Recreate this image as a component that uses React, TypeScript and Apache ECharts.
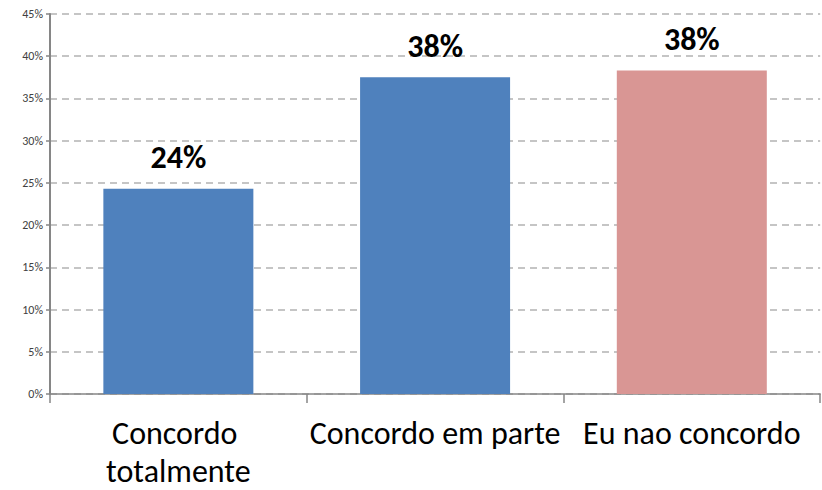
import React, { useEffect, useRef } from "react";
import * as echarts from "echarts";

const categories = ["Concordo totalmente", "Concordo em parte", "Eu nao concordo"];
const values = [24.3, 37.5, 38.3];
const barColors = ["#4f81bd", "#4f81bd", "#d99694"];
const yTicks = [0, 5, 10, 15, 20, 25, 30, 35, 40, 45];

const FONT = "Carlito, Calibri, 'Open Sans', sans-serif";

export default function App() {
  const ref = useRef<HTMLDivElement>(null);
  useEffect(() => {
    document.body.style.margin = "0";
    const chart = echarts.init(ref.current!, null, { renderer: "svg" });
    chart.setOption({
      animation: false,
      grid: { left: 50, top: 14, height: 382, width: 775 },
      xAxis: {
        type: "category",
        data: categories,
        axisLine: { lineStyle: { color: "#868686", width: 1.5 } },
        axisTick: { show: true, length: 9, lineStyle: { color: "#868686", width: 1.5 } },
        axisLabel: {
          color: "#000",
          fontFamily: FONT,
          fontSize: 32,
          lineHeight: 38,
          margin: 20,
          width: 256,
          overflow: "break",
          interval: 0,
        },
      },
      yAxis: {
        type: "value",
        min: yTicks[0],
        max: yTicks[yTicks.length - 1],
        interval: 5,
        axisLine: { show: true, lineStyle: { color: "#868686", width: 2 } },
        axisTick: { show: true, length: 4, lineStyle: { color: "#868686", width: 1.5 } },
        axisLabel: {
          color: "#404040",
          fontFamily: FONT,
          fontSize: 12,
          margin: 7,
          formatter: (v: number) => `${v}%`,
        },
        splitLine: { lineStyle: { color: "#b3b3b3", width: 1.5, type: [7, 5] } },
      },
      series: [
        {
          type: "bar",
          barWidth: 150,
          data: values.map((v, i) => ({ value: v, itemStyle: { color: barColors[i] } })),
          label: {
            show: true,
            position: "top",
            distance: 15,
            color: "#000",
            fontFamily: FONT,
            fontWeight: "bold",
            fontSize: 32,
            formatter: (p: any) => `${Math.round(p.value)}%`,
          },
        },
      ],
    });
    return () => chart.dispose();
  }, []);
  return <div ref={ref} style={{ width: 822, height: 490 }} />;
}
